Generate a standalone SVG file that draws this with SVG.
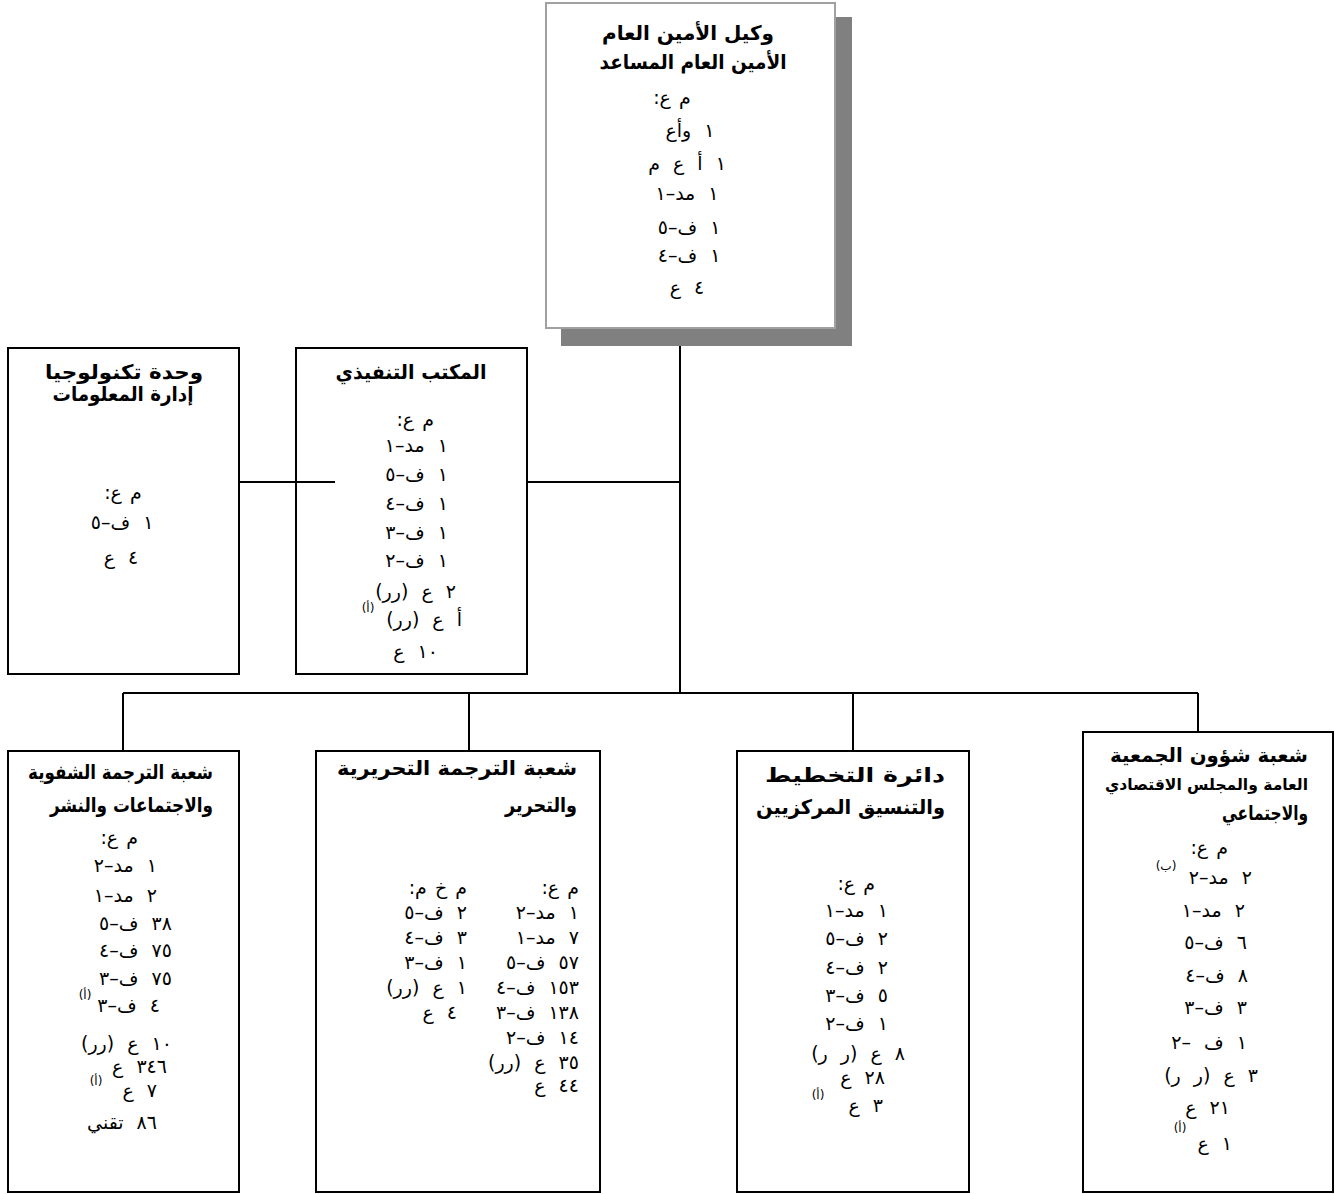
<svg xmlns="http://www.w3.org/2000/svg" width="1335" height="1194" viewBox="0 0 1335 1194">
<style>
text{font-family:"DejaVu Sans",sans-serif;fill:#000;direction:rtl}
.t{font-weight:bold;font-size:20px}
.b{font-size:19px;word-spacing:7px}
.m{word-spacing:2px}
.s{font-size:12px}
.c{text-anchor:middle}
.r{text-anchor:start}
.box{fill:#fff;stroke:#000;stroke-width:2}
.top{fill:#fff;stroke:#a0a0a0;stroke-width:2}
.shadow{fill:#808080}
.conn{stroke:#000;stroke-width:2;fill:none}
</style>
<rect width="1335" height="1194" fill="#fff"/>
<g id="usg">
<rect class="shadow" x="561" y="17" width="291" height="329"/>
<rect class="top" x="546" y="3" width="289" height="325"/>
<text class="t c" x="688" y="40" textLength="172" lengthAdjust="spacingAndGlyphs">وكيل الأمين العام</text>
<text class="t c" x="693" y="69" textLength="187" lengthAdjust="spacingAndGlyphs">الأمين العام المساعد</text>
<text class="b m c" x="672" y="104">م ع:</text>
<text class="b c" x="690" y="137">١ وأع</text>
<text class="b c" x="687" y="170">١ أ ع م</text>
<text class="b c" x="687" y="200">١ مد–١</text>
<text class="b c" x="689" y="234">١ ف–٥</text>
<text class="b c" x="689" y="262">١ ف–٤</text>
<text class="b c" x="687" y="294">٤ ع</text>
</g>
<g id="itu">
<rect class="box" x="8" y="348" width="231" height="326"/>
<text class="t c" x="124" y="379" textLength="158" lengthAdjust="spacingAndGlyphs">وحدة تكنولوجيا</text>
<text class="t c" x="123" y="401" textLength="141" lengthAdjust="spacingAndGlyphs">إدارة المعلومات</text>
<text class="b m c" x="123" y="499">م ع:</text>
<text class="b c" x="122" y="529">١ ف–٥</text>
<text class="b c" x="121" y="564">٤ ع</text>
</g>
<g id="exec">
<rect class="box" x="296" y="348" width="231" height="326"/>
<text class="t c" x="411" y="379" textLength="151" lengthAdjust="spacingAndGlyphs">المكتب التنفيذي</text>
<text class="b m r" x="434" y="426">م ع:</text>
<text class="b r" x="448" y="452">١ مد–١</text>
<text class="b r" x="448" y="481">١ ف–٥</text>
<text class="b r" x="448" y="510">١ ف–٤</text>
<text class="b r" x="448" y="539">١ ف–٣</text>
<text class="b r" x="448" y="567">١ ف–٢</text>
<text class="b r" x="456" y="598">٢ ع (رر)</text>
<text class="s c" x="368" y="612">(أ)</text>
<text class="b r" x="462" y="626">أ ع (رر)</text>
<text class="b r" x="438" y="658">١٠ ع</text>
</g>
<g id="interp">
<rect class="box" x="8" y="751" width="231" height="441"/>
<text class="t r" x="213" y="779" textLength="185" lengthAdjust="spacingAndGlyphs">شعبة الترجمة الشفوية</text>
<text class="t r" x="213" y="812" textLength="163" lengthAdjust="spacingAndGlyphs">والاجتماعات والنشر</text>
<text class="b m r" x="138" y="844">م ع:</text>
<text class="b r" x="157" y="872">١ مد–٢</text>
<text class="b r" x="157" y="902">٢ مد–١</text>
<text class="b r" x="172" y="930">٣٨ ف–٥</text>
<text class="b r" x="172" y="957">٧٥ ف–٤</text>
<text class="b r" x="172" y="985">٧٥ ف–٣</text>
<text class="b r" x="160" y="1012">٤ ف–٣</text>
<text class="s c" x="85" y="999">(أ)</text>
<text class="b r" x="172" y="1050">١٠ ع (رر)</text>
<text class="b r" x="167" y="1073">٣٤٦ ع</text>
<text class="s c" x="96" y="1085">(أ)</text>
<text class="b r" x="157" y="1097">٧ ع</text>
<text class="b r" x="157" y="1129">٨٦ تقني</text>
</g>
<g id="translation">
<rect class="box" x="316" y="751" width="284" height="441"/>
<text class="t r" x="577" y="775" textLength="240" lengthAdjust="spacingAndGlyphs">شعبة الترجمة التحريرية</text>
<text class="t r" x="577" y="812" textLength="72" lengthAdjust="spacingAndGlyphs">والتحرير</text>
<text class="b m r" x="579" y="894">م ع:</text>
<text class="b r" x="579" y="919">١ مد–٢</text>
<text class="b r" x="579" y="944">٧ مد–١</text>
<text class="b r" x="579" y="969">٥٧ ف–٥</text>
<text class="b r" x="579" y="994">١٥٣ ف–٤</text>
<text class="b r" x="579" y="1019">١٣٨ ف–٣</text>
<text class="b r" x="579" y="1044">١٤ ف–٢</text>
<text class="b r" x="579" y="1069">٣٥ ع (رر)</text>
<text class="b r" x="579" y="1092">٤٤ ع</text>
<text class="b m r" x="467" y="894">م خ م:</text>
<text class="b r" x="467" y="919">٢ ف–٥</text>
<text class="b r" x="467" y="944">٣ ف–٤</text>
<text class="b r" x="467" y="969">١ ف–٣</text>
<text class="b r" x="467" y="994">١ ع (رر)</text>
<text class="b r" x="457" y="1019">٤ ع</text>
</g>
<g id="planning">
<rect class="box" x="737" y="751" width="232" height="441"/>
<text class="t r" x="945" y="782" textLength="180" lengthAdjust="spacingAndGlyphs">دائرة التخطيط</text>
<text class="t r" x="945" y="814" textLength="189" lengthAdjust="spacingAndGlyphs">والتنسيق المركزيين</text>
<text class="b m r" x="875" y="890">م ع:</text>
<text class="b r" x="888" y="917">١ مد–١</text>
<text class="b r" x="888" y="945">٢ ف–٥</text>
<text class="b r" x="888" y="974">٢ ف–٤</text>
<text class="b r" x="888" y="1002">٥ ف–٣</text>
<text class="b r" x="888" y="1030">١ ف–٢</text>
<text class="b r" x="905" y="1060">٨ ع (ر ر)</text>
<text class="b r" x="885" y="1084">٢٨ ع</text>
<text class="s c" x="818" y="1099">(أ)</text>
<text class="b r" x="883" y="1112">٣ ع</text>
</g>
<g id="gaecos">
<rect class="box" x="1083" y="732" width="250" height="460"/>
<text class="t r" x="1308" y="762" textLength="198" lengthAdjust="spacingAndGlyphs">شعبة شؤون الجمعية</text>
<text class="t r" x="1308" y="790" style="font-size:16px" textLength="203" lengthAdjust="spacingAndGlyphs">العامة والمجلس الاقتصادي</text>
<text class="t r" x="1308" y="820" textLength="86" lengthAdjust="spacingAndGlyphs">والاجتماعي</text>
<text class="b m r" x="1228" y="854">م ع:</text>
<text class="s c" x="1166" y="870">(ب)</text>
<text class="b r" x="1252" y="884">٢ مد–٢</text>
<text class="b r" x="1245" y="917">٢ مد–١</text>
<text class="b r" x="1247" y="949">٦ ف–٥</text>
<text class="b r" x="1248" y="982">٨ ف–٤</text>
<text class="b r" x="1247" y="1014">٣ ف–٣</text>
<text class="b r" x="1247" y="1049">١ ف –٢</text>
<text class="b r" x="1258" y="1082">٣ ع (ر ر)</text>
<text class="b r" x="1230" y="1114">٢١ ع</text>
<text class="s c" x="1180" y="1132">(أ)</text>
<text class="b r" x="1232" y="1150">١ ع</text>
</g>
<g id="connectors" class="conn">
<path d="M680 346 V693 M527 482 H680 M239 482 H335 M123 693 H1198 M123 693 V751 M469 693 V751 M853 693 V751 M1198 693 V732"/>
</g>
</svg>
